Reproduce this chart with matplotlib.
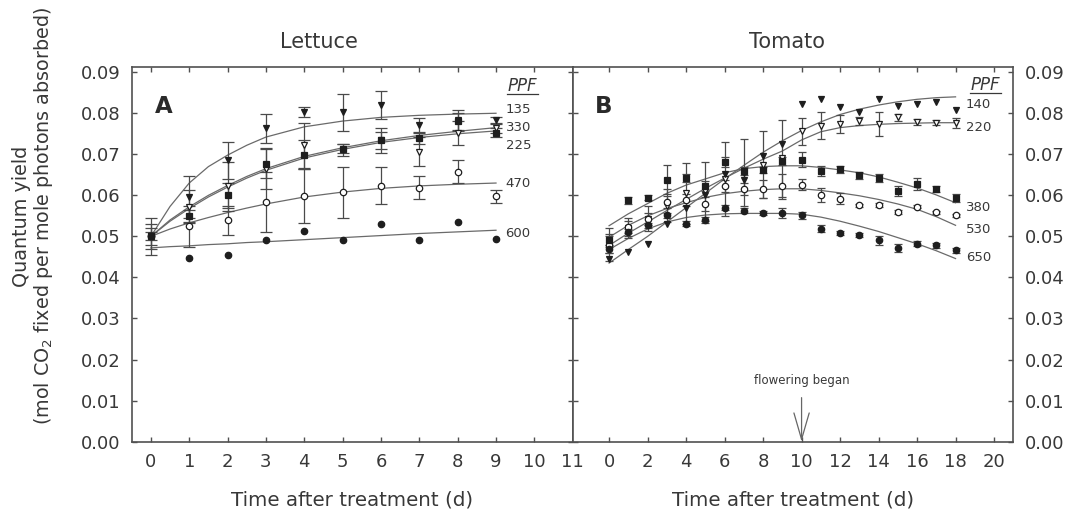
import matplotlib
matplotlib.use("Agg")
import matplotlib.pyplot as plt
from matplotlib.lines import Line2D
import numpy as np

plt.rcParams['font.family'] = ['DejaVu Sans']

# ---------------- Panel A : Lettuce ----------------
days_A = [0, 1, 2, 3, 4, 5, 6, 7, 8, 9]
a135 = [0.0500, 0.0596, 0.0685, 0.0763, 0.0803, 0.0802, 0.0820, 0.0771, 0.0783, 0.0783]
a135_err = [0.0010, 0.0050, 0.0045, 0.0036, 0.0012, 0.0046, 0.0034, 0.0018, 0.0026, 0.0008]
a330 = [0.0500, 0.0572, 0.0622, 0.0665, 0.0722, 0.0711, 0.0734, 0.0706, 0.0752, 0.0765]
a330_err = [0.0030, 0.0040, 0.0060, 0.0050, 0.0055, 0.0015, 0.0020, 0.0035, 0.0030, 0.0012]
a225 = [0.0500, 0.0549, 0.0600, 0.0677, 0.0699, 0.0714, 0.0734, 0.0740, 0.0780, 0.0753]
a225_err = [0.0020, 0.0015, 0.0030, 0.0035, 0.0035, 0.0010, 0.0030, 0.0015, 0.0020, 0.0012]
a470 = [0.0500, 0.0525, 0.0539, 0.0584, 0.0598, 0.0608, 0.0624, 0.0618, 0.0657, 0.0598]
a470_err = [0.0045, 0.0050, 0.0035, 0.0073, 0.0066, 0.0062, 0.0045, 0.0028, 0.0028, 0.0016]
a600 = [0.0500, 0.0448, 0.0454, 0.0492, 0.0513, 0.0490, 0.0531, 0.0490, 0.0535, 0.0494]

# fitted curves
curve_days_A = [0, 0.5, 1, 1.5, 2, 2.5, 3, 4, 5, 6, 7, 8, 9]
fit_a135 = [0.0500, 0.0573, 0.0630, 0.0670, 0.0698, 0.0722, 0.0742, 0.0767, 0.0781, 0.0790, 0.0795, 0.0798, 0.0800]
fit_a330 = [0.0500, 0.0540, 0.0572, 0.0600, 0.0624, 0.0646, 0.0665, 0.0695, 0.0716, 0.0733, 0.0746, 0.0756, 0.0765]
fit_a225 = [0.0500, 0.0537, 0.0568, 0.0596, 0.0620, 0.0642, 0.0661, 0.0691, 0.0712, 0.0729, 0.0741, 0.0750, 0.0757]
fit_a470 = [0.0500, 0.0518, 0.0533, 0.0546, 0.0558, 0.0569, 0.0579, 0.0596, 0.0608, 0.0617, 0.0623, 0.0627, 0.0630]
fit_a600 = [0.0472, 0.0475, 0.0477, 0.0480, 0.0482, 0.0485, 0.0487, 0.0492, 0.0497, 0.0502, 0.0507, 0.0511, 0.0515]

# ---------------- Panel B : Tomato ----------------
days_B = list(range(0, 19))
b140 = [0.0445, 0.0462, 0.0482, 0.0530, 0.0570, 0.0600, 0.0652, 0.0638, 0.0695, 0.0725,
        0.0822, 0.0835, 0.0815, 0.0803, 0.0835, 0.0818, 0.0822, 0.0828, 0.0808]
b220 = [0.0480, 0.0520, 0.0543, 0.0575, 0.0605, 0.0610, 0.0640, 0.0655, 0.0675, 0.0690,
        0.0756, 0.0770, 0.0774, 0.0781, 0.0774, 0.0790, 0.0778, 0.0777, 0.0776]
b220_err = [0.0040, 0.0025, 0.0030, 0.0040, 0.0075, 0.0072, 0.0090, 0.0082, 0.0082, 0.0094,
            0.0033, 0.0032, 0.0022, 0.0010, 0.0030, 0.0009, 0.0007, 0.0006, 0.0012]
b380 = [0.0490, 0.0588, 0.0594, 0.0638, 0.0643, 0.0622, 0.0682, 0.0660, 0.0662, 0.0683,
        0.0687, 0.0659, 0.0663, 0.0649, 0.0643, 0.0610, 0.0628, 0.0615, 0.0594]
b380_err = [0.0015, 0.0008, 0.0006, 0.0035, 0.0010, 0.0012, 0.0012, 0.0010, 0.0008, 0.0010,
            0.0018, 0.0012, 0.0008, 0.0008, 0.0010, 0.0012, 0.0015, 0.0007, 0.0010]
b530 = [0.0480, 0.0523, 0.0543, 0.0584, 0.0588, 0.0579, 0.0622, 0.0616, 0.0616, 0.0622,
        0.0626, 0.0602, 0.0592, 0.0576, 0.0576, 0.0559, 0.0572, 0.0559, 0.0551]
b530_err = [0.0020, 0.0015, 0.0015, 0.0015, 0.0015, 0.0016, 0.0015, 0.0015, 0.0022, 0.0030,
            0.0014, 0.0017, 0.0014, 0.0004, 0.0005, 0.0005, 0.0004, 0.0004, 0.0004]
b650 = [0.0470, 0.0510, 0.0527, 0.0551, 0.0531, 0.0540, 0.0570, 0.0563, 0.0557, 0.0557,
        0.0551, 0.0519, 0.0509, 0.0504, 0.0490, 0.0472, 0.0482, 0.0478, 0.0466]
b650_err = [0.0010, 0.0008, 0.0006, 0.0006, 0.0006, 0.0008, 0.0006, 0.0006, 0.0006, 0.0012,
            0.0008, 0.0008, 0.0005, 0.0005, 0.0010, 0.0010, 0.0006, 0.0006, 0.0006]

fit_b140 = [0.0435, 0.0468, 0.0500, 0.0535, 0.0570, 0.0605, 0.0640, 0.0673, 0.0705, 0.0733,
            0.0758, 0.0779, 0.0797, 0.0810, 0.0820, 0.0828, 0.0834, 0.0838, 0.0840]
fit_b220 = [0.0478, 0.0508, 0.0535, 0.0563, 0.0590, 0.0617, 0.0642, 0.0666, 0.0688, 0.0708,
            0.0735, 0.0755, 0.0765, 0.0770, 0.0773, 0.0775, 0.0776, 0.0777, 0.0777]
fit_b380 = [0.0526, 0.0555, 0.0580, 0.0605, 0.0625, 0.0640, 0.0655, 0.0665, 0.0670, 0.0672,
            0.0672, 0.0668, 0.0662, 0.0655, 0.0645, 0.0632, 0.0618, 0.0601, 0.0582]
fit_b530 = [0.0498, 0.0527, 0.0550, 0.0568, 0.0582, 0.0595, 0.0604, 0.0610, 0.0614, 0.0616,
            0.0616, 0.0612, 0.0606, 0.0599, 0.0590, 0.0579, 0.0566, 0.0548, 0.0527]
fit_b650 = [0.0468, 0.0495, 0.0518, 0.0535, 0.0546, 0.0552, 0.0555, 0.0556, 0.0556, 0.0556,
            0.0554, 0.0547, 0.0537, 0.0525, 0.0512, 0.0497, 0.0482, 0.0465, 0.0446]

labels_A = ['135', '330', '225', '470', '600']
label_y_A = [0.0809, 0.0766, 0.0722, 0.0630, 0.0507]
labels_B = ['140', '220', '380', '530', '650']
label_y_B = [0.0821, 0.0765, 0.0570, 0.0517, 0.0448]

yticks = [0.00, 0.01, 0.02, 0.03, 0.04, 0.05, 0.06, 0.07, 0.08, 0.09]
xticks_A = list(range(0, 12))
xticks_B = list(range(0, 21, 2))

# ---------------- styling ----------------
TXT = '#383838'
SPN = '#505050'
LINE = '#6a6a6a'
MK = '#1e1e1e'

fig = plt.figure(figsize=(10.65, 5.16), dpi=100)
W, H = 1065, 516
axA = fig.add_axes([131.7 / W, 74.4 / H, 441.0 / W, 374.3 / H])
axB = fig.add_axes([572.7 / W, 74.4 / H, 440.6 / W, 374.3 / H])


def style_axis(ax):
    for s in ax.spines.values():
        s.set_color(SPN)
        s.set_linewidth(1.2)
    ax.tick_params(which='both', direction='in', length=3.5, width=1.0, color=SPN,
                   labelsize=13, labelcolor=TXT, pad=8)
    ax.set_ylim(0, 0.0912)
    ax.set_yticks(yticks)


style_axis(axA)
style_axis(axB)
axA.set_xlim(-0.5, 11.0)
axB.set_xlim(-1.89, 21.0)
axA.set_xticks(xticks_A)
axB.set_xticks(xticks_B)
axA.set_yticklabels(['%.2f' % v for v in yticks])
axA.tick_params(axis='both', top=True, right=True, labelright=False)
axB.tick_params(axis='both', top=True, left=True, right=True, labelleft=False, labelright=True)


def series(ax, x, y, err, marker, filled, capsize):
    if err is not None:
        ax.errorbar(x, y, yerr=err, fmt='none', ecolor='#4a4a4a', elinewidth=0.9,
                    capsize=capsize, capthick=0.9, zorder=3)
    ax.plot(x, y, linestyle='none', marker=marker, markersize=4.6,
            markerfacecolor=MK if filled else 'white', markeredgecolor=MK,
            markeredgewidth=0.9, zorder=4)


def curve(ax, x, y):
    ax.plot(x, y, color=LINE, linewidth=0.9, zorder=2)


for fit in (fit_a135, fit_a330, fit_a225, fit_a470, fit_a600):
    curve(axA, curve_days_A, fit)
series(axA, days_A, a470, a470_err, 'o', False, 4)
series(axA, days_A, a330, a330_err, 'v', False, 4)
series(axA, days_A, a225, a225_err, 's', True, 4)
series(axA, days_A, a135, a135_err, 'v', True, 4)
series(axA, days_A, a600, None, 'o', True, 4)

for fit in (fit_b140, fit_b220, fit_b380, fit_b530, fit_b650):
    curve(axB, days_B, fit)
series(axB, days_B, b220, b220_err, 'v', False, 2.6)
series(axB, days_B, b530, b530_err, 'o', False, 2.6)
series(axB, days_B, b380, b380_err, 's', True, 2.6)
series(axB, days_B, b650, b650_err, 'o', True, 2.6)
series(axB, days_B, b140, None, 'v', True, 2.6)

for lab, yv in zip(labels_A, label_y_A):
    axA.text(9.25, yv, lab, fontsize=9.5, color=TXT, ha='left', va='center')
for lab, yv in zip(labels_B, label_y_B):
    axB.text(18.53, yv, lab, fontsize=9.5, color=TXT, ha='left', va='center')

ppfA = axA.text(9.69, 0.0866, 'PPF', fontsize=12, style='italic', color=TXT, ha='center', va='center')
ppfB = axB.text(19.56, 0.0868, 'PPF', fontsize=12, style='italic', color=TXT, ha='center', va='center')

axA.text(0.073, 0.894, 'A', transform=axA.transAxes, fontsize=16.5, fontweight='bold',
         color='#2a2a2a', ha='center', va='center')
axB.text(0.070, 0.896, 'B', transform=axB.transAxes, fontsize=16.5, fontweight='bold',
         color='#2a2a2a', ha='center', va='center')

axA.text(0.424, 1.068, 'Lettuce', transform=axA.transAxes, fontsize=15, color=TXT,
         ha='center', va='center')
axB.text(0.486, 1.068, 'Tomato', transform=axB.transAxes, fontsize=15, color=TXT,
         ha='center', va='center')

axA.text(0.5, -0.157, 'Time after treatment (d)', transform=axA.transAxes, fontsize=14.3,
         color=TXT, ha='center', va='center')
axB.text(0.5, -0.157, 'Time after treatment (d)', transform=axB.transAxes, fontsize=14.3,
         color=TXT, ha='center', va='center')

fig.text(33.8 / W, 1 - 216 / H, 'Quantum yield\n(mol CO$_2$ fixed per mole photons absorbed)',
         rotation=90, fontsize=13.8, color=TXT, ha='center', va='center',
         multialignment='center', linespacing=1.05)

axB.annotate('flowering began', xy=(10, 0.0), xytext=(10, 0.0150), fontsize=8.5, color=TXT,
             ha='center', va='center',
             arrowprops=dict(arrowstyle='->,head_length=1.9,head_width=0.55', color='#666666',
                             lw=0.9, shrinkA=6, shrinkB=0, mutation_scale=10))

# underline the PPF headers
fig.canvas.draw()
rend = fig.canvas.get_renderer()
inv = fig.transFigure.inverted()
for t in (ppfA, ppfB):
    bb = t.get_window_extent(rend)
    (x0, y0), (x1, y1) = inv.transform([[bb.x0, bb.y0], [bb.x1, bb.y1]])
    yl = y0 + 1.5 / H
    fig.add_artist(Line2D([x0 - 1 / W, x1 + 1 / W], [yl, yl], transform=fig.transFigure,
                          color=TXT, linewidth=0.9))

fig.savefig('out.png', dpi=100)
